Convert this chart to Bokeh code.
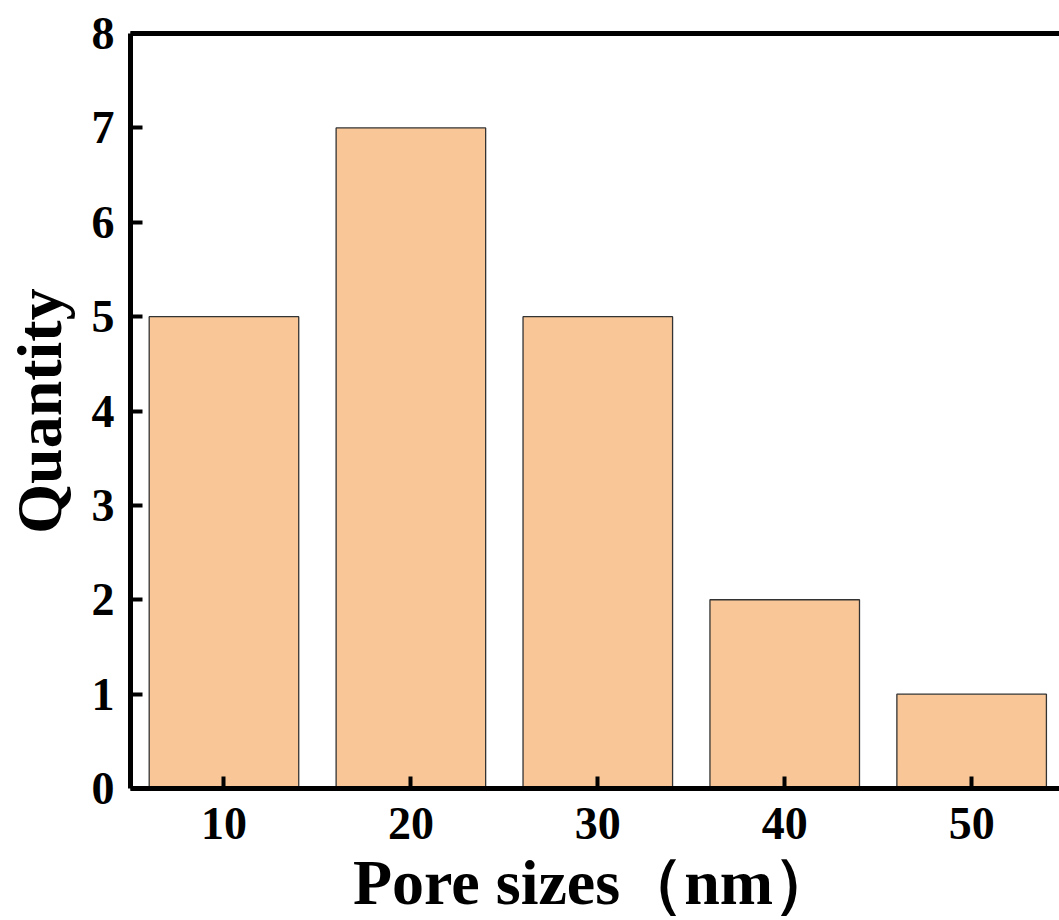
from bokeh.plotting import figure
from bokeh.models import LinearAxis, FixedTicker, Range1d
from bokeh.embed import file_html
from bokeh.resources import INLINE

pore_sizes = [10, 20, 30, 40, 50]
quantity = [5, 7, 5, 2, 1]
x_ticks = [10, 20, 30, 40, 50]
y_ticks = [0, 1, 2, 3, 4, 5, 6, 7, 8]

FONT = "Liberation Serif"

p = figure(width=1059, height=920, output_backend="svg", toolbar_location=None,
           x_range=Range1d(5, 54.7), y_range=Range1d(0, 8),
           x_axis_location=None, y_axis_location=None,
           min_border_left=129, min_border_right=0, min_border_top=33, min_border_bottom=132)
p.outline_line_color = None
p.grid.visible = False
p.background_fill_color = "white"

p.vbar(x=pore_sizes, top=quantity, width=8, bottom=0,
       fill_color="#F9C797", line_color="#333333", line_width=1.3)

xa = LinearAxis(ticker=FixedTicker(ticks=x_ticks), axis_label="Pore sizes（nm）")
ya = LinearAxis(ticker=FixedTicker(ticks=y_ticks), axis_label="Quantity")
top = LinearAxis(ticker=FixedTicker(ticks=[]), major_label_text_font_size="0px")

for ax in (xa, ya):
    ax.axis_line_width = 5
    ax.axis_line_color = "black"
    ax.major_tick_in = 12
    ax.major_tick_out = 0
    ax.major_tick_line_width = 4
    ax.minor_tick_line_color = None
    ax.major_label_text_font = FONT
    ax.major_label_text_font_style = "bold"
    ax.major_label_text_font_size = "46px"
    ax.major_label_text_color = "black"
    ax.axis_label_text_font = FONT
    ax.axis_label_text_font_style = "bold"
    ax.axis_label_text_color = "black"
    ax.axis_label_text_font_size = "64px"

xa.major_label_standoff = 19
xa.axis_label_standoff = 5
ya.major_label_standoff = 16
ya.axis_label_standoff = 14

top.axis_line_width = 5
top.major_tick_line_color = None
top.minor_tick_line_color = None
top.major_label_standoff = 0

p.add_layout(xa, "below")
p.add_layout(ya, "left")
p.add_layout(top, "above")

open("out.html", "w").write(file_html(p, INLINE))
